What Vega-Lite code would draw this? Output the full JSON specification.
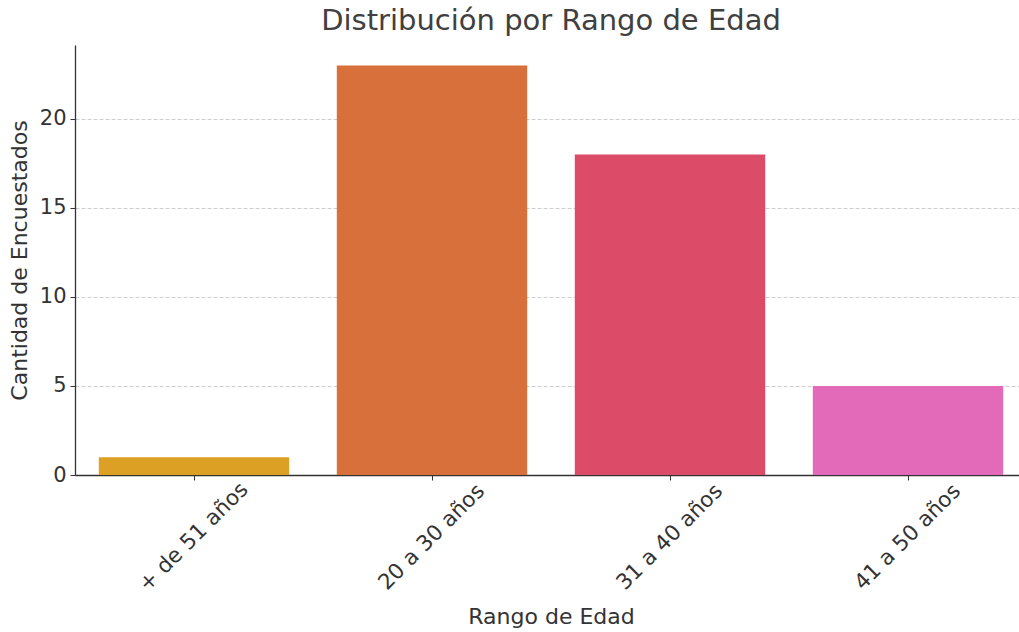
{
  "$schema": "https://vega.github.io/schema/vega-lite/v6.json",
  "width": 952,
  "height": 430,
  "autosize": {"type": "none"},
  "padding": {"left": 75, "top": 45, "right": 0, "bottom": 157},
  "background": "white",
  "title": {
    "text": "Distribución por Rango de Edad",
    "font": "DejaVu Sans",
    "fontSize": 29,
    "fontWeight": "normal",
    "color": "#404040",
    "anchor": "middle",
    "offset": 9
  },
  "config": {
    "view": {"stroke": null},
    "font": "DejaVu Sans"
  },
  "data": {
    "values": [
      {"rango": "+ de 51 años", "cantidad": 1},
      {"rango": "20 a 30 años", "cantidad": 23},
      {"rango": "31 a 40 años", "cantidad": 18},
      {"rango": "41 a 50 años", "cantidad": 5}
    ]
  },
  "mark": {"type": "bar"},
  "encoding": {
    "x": {
      "field": "rango",
      "type": "nominal",
      "sort": null,
      "scale": {"paddingInner": 0.2, "paddingOuter": 0.1},
      "axis": {
        "title": "Rango de Edad",
        "titleFont": "DejaVu Sans",
        "titleFontSize": 22,
        "titleFontWeight": "normal",
        "titleColor": "#333333",
        "titlePadding": 11,
        "labelAngle": -45,
        "labelAlign": "center",
        "labelBaseline": "middle",
        "labelFontSize": 21.5,
        "labelColor": "#333333",
        "labelPadding": 57,
        "labelBound": false,
        "labelOverlap": false,
        "domainColor": "#333333",
        "domainWidth": 1.3,
        "tickColor": "#333333",
        "tickSize": 5,
        "grid": false
      }
    },
    "y": {
      "field": "cantidad",
      "type": "quantitative",
      "scale": {"domain": [0, 24.15], "nice": false},
      "axis": {
        "title": "Cantidad de Encuestados",
        "titleFont": "DejaVu Sans",
        "titleFontSize": 22,
        "titleFontWeight": "normal",
        "titleColor": "#333333",
        "titlePadding": 8,
        "values": [0, 5, 10, 15, 20],
        "labelFontSize": 21,
        "labelColor": "#333333",
        "labelPadding": 4,
        "domainColor": "#333333",
        "domainWidth": 1.3,
        "tickColor": "#333333",
        "tickSize": 5,
        "grid": true,
        "gridColor": "#c8c8c8",
        "gridDash": [4, 2],
        "gridWidth": 0.9
      }
    },
    "color": {
      "field": "rango",
      "type": "nominal",
      "sort": null,
      "scale": {
        "domain": ["+ de 51 años", "20 a 30 años", "31 a 40 años", "41 a 50 años"],
        "range": ["#dca124", "#d8703b", "#dc4b68", "#e36ab8"]
      },
      "legend": null
    }
  }
}
